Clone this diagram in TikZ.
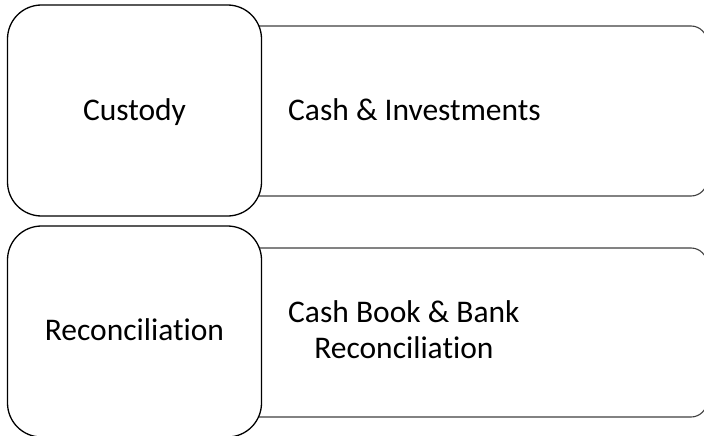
\documentclass[tikz,border=0pt]{standalone}
\usepackage{fontspec}
\setmainfont{Carlito}[Ligatures=CommonOff]
\usepackage{xcolor}
\usetikzlibrary{positioning}
\definecolor{boxgray}{HTML}{404040}

\begin{document}
\begin{tikzpicture}[x=1pt,y=-1pt,
    catbox/.style={draw=black,line width=1.3pt,fill=white,rounded corners=34pt,
                   minimum width=254pt,minimum height=211pt,inner sep=0pt},
    itembox/.style={draw=boxgray,line width=1.1pt,fill=white,rounded corners=16pt},
    lbl/.style={font=\fontsize{31.5}{36}\selectfont,inner sep=0pt,align=center}]
  \useasboundingbox (0,0) rectangle (704,436);
  % right hand boxes first, the left ones cover their left ends
  \draw[itembox] (240,26) rectangle (707,196); %box 1
  \draw[itembox] (240,248) rectangle (707,417); %box 2
  % left hand boxes
  \node[catbox] (custody) at (134.5,110.5) {};
  \node[catbox] (recon) at (134.5,331.5) {};
  % texts
  \node[lbl,anchor=base] (custodytxt) at (custody.center |- 0,120.5) {Custody};
  \node[lbl,anchor=base] (recontxt) at (recon.center |- 0,340) {Reconciliation};
  \node[lbl,anchor=base west] (cash) at (288,120) {Cash \& Investments};
  \node[lbl,anchor=base west] (cashbook) at (288,358) {Cash Book \& Bank\\Reconciliation};
\end{tikzpicture}
\end{document}
